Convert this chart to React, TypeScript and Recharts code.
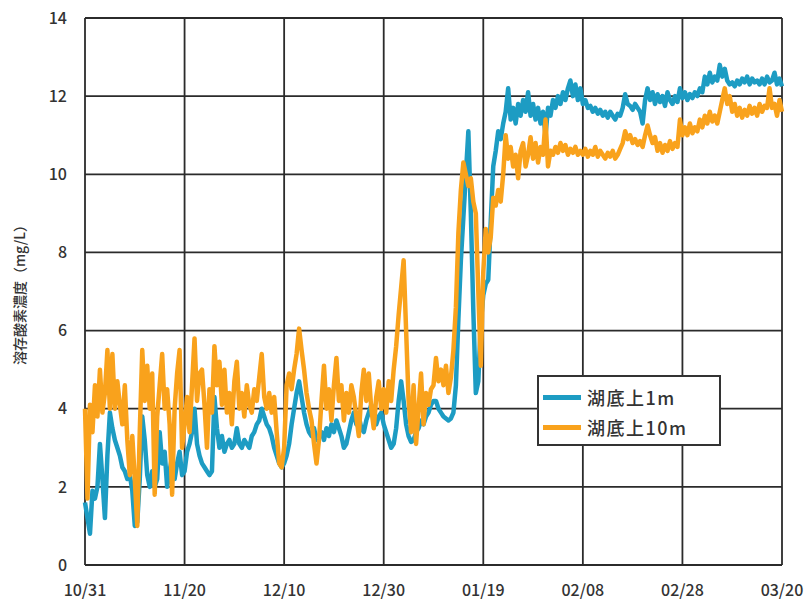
import { LineChart, Line, XAxis, YAxis, CartesianGrid, Label } from "recharts";

// --- DATA (half-day samples starting 10/31) ---
const dayStep = 0.5;

const xTicks = [0, 20, 40, 60, 80, 100, 120, 140];
const xLabels = ["10/31", "11/20", "12/10", "12/30", "01/19", "02/08", "02/28", "03/20"];
const yTicks = [0, 2, 4, 6, 8, 10, 12, 14];

// 湖底上1m
const do1m = [
    1.6, 1.2, 0.8, 1.9, 1.7, 2.0, 3.1, 2.2, 1.2, 2.8, 3.9, 3.5, 3.2, 3.0, 2.8, 2.5, 2.4, 2.2, 2.3, 1.9,
    1.0, 1.1, 2.2, 3.8, 3.2, 2.3, 2.0, 2.4, 2.0, 2.2, 3.4, 2.6, 2.9, 2.0, 2.4, 2.8, 2.2, 2.6, 2.9, 2.3,
    2.4, 2.9, 3.1, 3.4, 4.0, 3.1, 2.8, 2.6, 2.5, 2.4, 2.3, 2.4, 4.3, 3.5, 3.0, 3.3, 2.9, 3.1, 3.2, 3.0,
    3.1, 3.5, 3.1, 3.0, 3.2, 3.1, 3.0, 3.3, 3.4, 3.6, 3.7, 4.0, 3.8, 3.6, 3.5, 3.3, 3.0, 2.8, 2.6, 2.5,
    2.6, 2.8, 3.1, 3.6, 4.0, 4.4, 4.7, 4.3, 3.9, 3.6, 3.4, 3.3, 3.5, 3.2, 3.3, 3.4, 3.2, 3.5, 3.3, 3.6,
    3.4, 3.7, 3.5, 3.3, 3.0, 3.1, 3.4, 3.7, 3.9, 3.6, 3.8, 3.5, 3.4, 3.7, 3.9, 4.1, 3.8, 3.6, 3.8, 3.9,
    3.6, 3.4, 3.2, 3.0, 3.1, 3.5, 4.2, 4.7, 4.2, 3.6, 3.3, 3.15, 3.2, 3.4, 3.5, 3.7, 3.6, 3.8, 3.9, 4.1,
    4.2, 4.2, 4.0, 3.9, 3.8, 3.75, 3.7, 3.75, 3.9, 4.6, 6.3, 7.8, 8.9, 10.0, 11.1, 9.0, 6.5, 4.4, 4.7, 6.2,
    6.9, 7.2, 7.3, 8.8, 10.2, 10.6, 11.1, 10.9, 11.3, 11.6, 12.2, 11.4, 11.7, 11.3, 11.8, 11.5, 11.9, 11.6, 12.1, 11.5,
    11.8, 11.4, 11.7, 11.3, 11.6, 11.0, 11.7, 11.5, 11.9, 11.7, 12.0, 11.8, 12.1, 11.9, 12.2, 12.4, 12.0, 12.3, 11.9, 12.2,
    11.8, 11.9, 11.7, 11.75, 11.6, 11.7, 11.55, 11.65, 11.5, 11.6, 11.45, 11.6, 11.5, 11.4, 11.55, 11.5, 11.7, 12.05, 11.8, 11.75,
    11.65, 11.8, 11.7, 11.6, 11.3, 11.9, 12.2, 11.9, 12.1, 11.8, 12.05, 11.85, 12.0, 11.75, 12.1, 11.9, 11.8, 12.0, 11.85, 12.2,
    11.95, 12.1, 11.9, 12.05, 11.95, 12.1, 12.0, 12.2, 12.1, 12.5, 12.3, 12.6, 12.35, 12.5, 12.4, 12.8, 12.5, 12.7, 12.4, 12.3,
    12.35, 12.25, 12.4, 12.3, 12.45, 12.35, 12.5, 12.3, 12.45, 12.35, 12.4, 12.3, 12.45, 12.3, 12.5, 12.35, 12.4, 12.6, 12.3, 12.45,
    12.25,
];

// 湖底上10m
const do10m = [
    4.0, 1.7, 4.1, 3.4, 4.6, 3.8, 5.0, 3.9, 4.4, 5.5, 4.0, 5.4, 4.0, 4.7, 4.1, 3.6, 4.6, 3.2, 2.3, 3.3,
    2.2, 1.0, 3.4, 5.5, 4.2, 5.1, 4.0, 4.9, 1.8, 3.8, 4.6, 5.4, 4.0, 4.5, 3.6, 1.8, 4.0, 4.9, 5.5, 3.0,
    3.6, 4.3, 3.4, 4.6, 5.8, 4.2, 4.9, 5.0, 4.1, 3.0, 4.5, 3.9, 5.6, 4.6, 5.2, 4.1, 5.0, 3.9, 4.4, 3.6,
    4.7, 5.2, 4.0, 4.4, 3.8, 4.6, 4.1, 3.9, 4.5, 4.2, 4.8, 5.4, 4.3, 4.0, 4.4, 3.9, 4.3, 3.4, 2.6, 2.5,
    3.0, 4.6, 4.9, 4.5, 5.0, 5.4, 6.05, 5.5, 5.0, 4.4, 4.0, 3.7, 3.1, 2.6, 3.2, 4.2, 5.1, 4.0, 4.5, 3.7,
    4.6, 5.3, 4.2, 4.6, 3.7, 4.4, 3.9, 4.6, 4.3, 3.8, 3.3, 4.4, 5.0, 4.2, 4.9, 4.0, 3.5, 4.3, 4.7, 4.0,
    4.5, 3.9, 4.7, 4.2, 5.0, 5.6, 6.4, 7.1, 7.8, 6.0, 4.2, 3.4, 4.6, 3.1, 4.0, 4.9, 3.6, 4.4, 4.1, 4.5,
    4.6, 5.3, 4.7, 5.0, 4.6, 5.1, 4.4, 4.8, 5.5, 6.6, 8.5, 9.6, 10.3, 10.0, 9.7, 9.9, 9.3, 9.0, 7.0, 5.1,
    7.5, 8.6, 8.0, 8.4, 9.4, 9.2, 9.6, 9.3, 10.0, 11.0, 10.4, 10.7, 10.2, 10.5, 9.9, 10.6, 10.8, 10.2, 10.5, 10.95,
    10.4, 10.8, 10.3, 10.7, 10.5, 11.4, 10.2, 10.6, 10.5, 10.7, 10.55, 10.8, 10.6, 10.75, 10.5, 10.65, 10.55, 10.7, 10.5, 10.6,
    10.5, 10.65, 10.45, 10.6, 10.5, 10.7, 10.45, 10.6, 10.5, 10.4, 10.55, 10.45, 10.6, 10.4, 10.5, 10.65, 10.8, 11.1, 10.9, 11.0,
    10.8, 10.9, 10.75, 10.85, 10.7, 11.0, 11.25, 11.0, 10.8, 10.95, 10.6, 10.8, 10.55, 10.75, 10.6, 10.85, 10.65, 10.8, 10.7, 11.4,
    11.0, 11.2, 11.0, 11.3, 11.05, 11.2, 11.1, 11.4, 11.2, 11.5, 11.3, 11.6, 11.35, 11.5, 11.3, 11.6, 11.9, 12.2, 11.8, 12.0,
    11.6, 11.8, 11.5, 11.7, 11.45, 11.65, 11.5, 11.75, 11.55, 11.7, 11.5, 11.8, 11.6, 11.75, 11.7, 12.2, 11.7, 11.8, 11.5, 11.9,
    11.6,
];

const seriesNames = ["湖底上1m", "湖底上10m"];
const seriesColors = ["#1d9cc3", "#f9a21c"];

const data = do1m.map((v, i) => ({ day: i * dayStep, m1: v, m10: do10m[i] }));

const FONT = "'Noto Sans CJK JP', 'Noto Sans', sans-serif";

// framed legend box sitting over the plot (kept outside recharts so it doesn't shrink the plot)
function LegendBox() {
    return (
        <div
            style={{
                position: "absolute",
                left: 537,
                top: 375,
                width: 184,
                height: 71,
                border: "2px solid #333",
                background: "#fff",
                boxSizing: "border-box",
                padding: "5px 0 0 4px",
                fontFamily: FONT,
            }}
        >
            {seriesNames.map((name, i) => (
                <div key={name} style={{ display: "flex", alignItems: "center", height: 30 }}>
                    <span style={{ display: "inline-block", width: 38, height: 5, background: seriesColors[i], marginRight: 6 }} />
                    <span style={{ fontSize: 18, color: "#333", letterSpacing: 1.5, fontWeight: 500 }}>{name}</span>
                </div>
            ))}
        </div>
    );
}

export default function App() {
    return (
        <div style={{ position: "absolute", left: 0, top: 0, width: 811, height: 605, background: "#fff" }}>
            <LineChart width={811} height={605} data={data} margin={{ top: 18, right: 29, left: 0, bottom: 0 }}>
                <CartesianGrid stroke="#2b2b2b" strokeWidth={1.8} vertical horizontal />
                <XAxis
                    dataKey="day"
                    type="number"
                    domain={[0, 140]}
                    ticks={xTicks}
                    tickFormatter={(v: number) => xLabels[xTicks.indexOf(v)]}
                    axisLine={false}
                    tickLine={false}
                    tickMargin={14}
                    tick={{ fill: "#333", fontSize: 16, fontFamily: FONT, fontWeight: 500 }}
                    interval={0}
                    height={40}
                />
                <YAxis
                    type="number"
                    domain={[0, 14]}
                    ticks={yTicks}
                    width={85}
                    axisLine={false}
                    tickLine={false}
                    tickMargin={12}
                    tick={{ fill: "#333", fontSize: 16, fontFamily: FONT, fontWeight: 500 }}
                    interval={0}
                >
                    <Label
                        value="溶存酸素濃度（mg/L）"
                        angle={-90}
                        position="insideLeft"
                        offset={20}
                        style={{ textAnchor: "middle", fill: "#333", fontSize: 14, fontFamily: FONT, fontWeight: 500 }}
                    />
                </YAxis>
                <Line
                    dataKey="m1"
                    name={seriesNames[0]}
                    stroke={seriesColors[0]}
                    strokeWidth={4.5}
                    dot={false}
                    type="linear"
                    strokeLinejoin="round"
                    isAnimationActive={false}
                />
                <Line
                    dataKey="m10"
                    name={seriesNames[1]}
                    stroke={seriesColors[1]}
                    strokeWidth={4.5}
                    dot={false}
                    type="linear"
                    strokeLinejoin="round"
                    isAnimationActive={false}
                />
            </LineChart>
            <LegendBox />
        </div>
    );
}
